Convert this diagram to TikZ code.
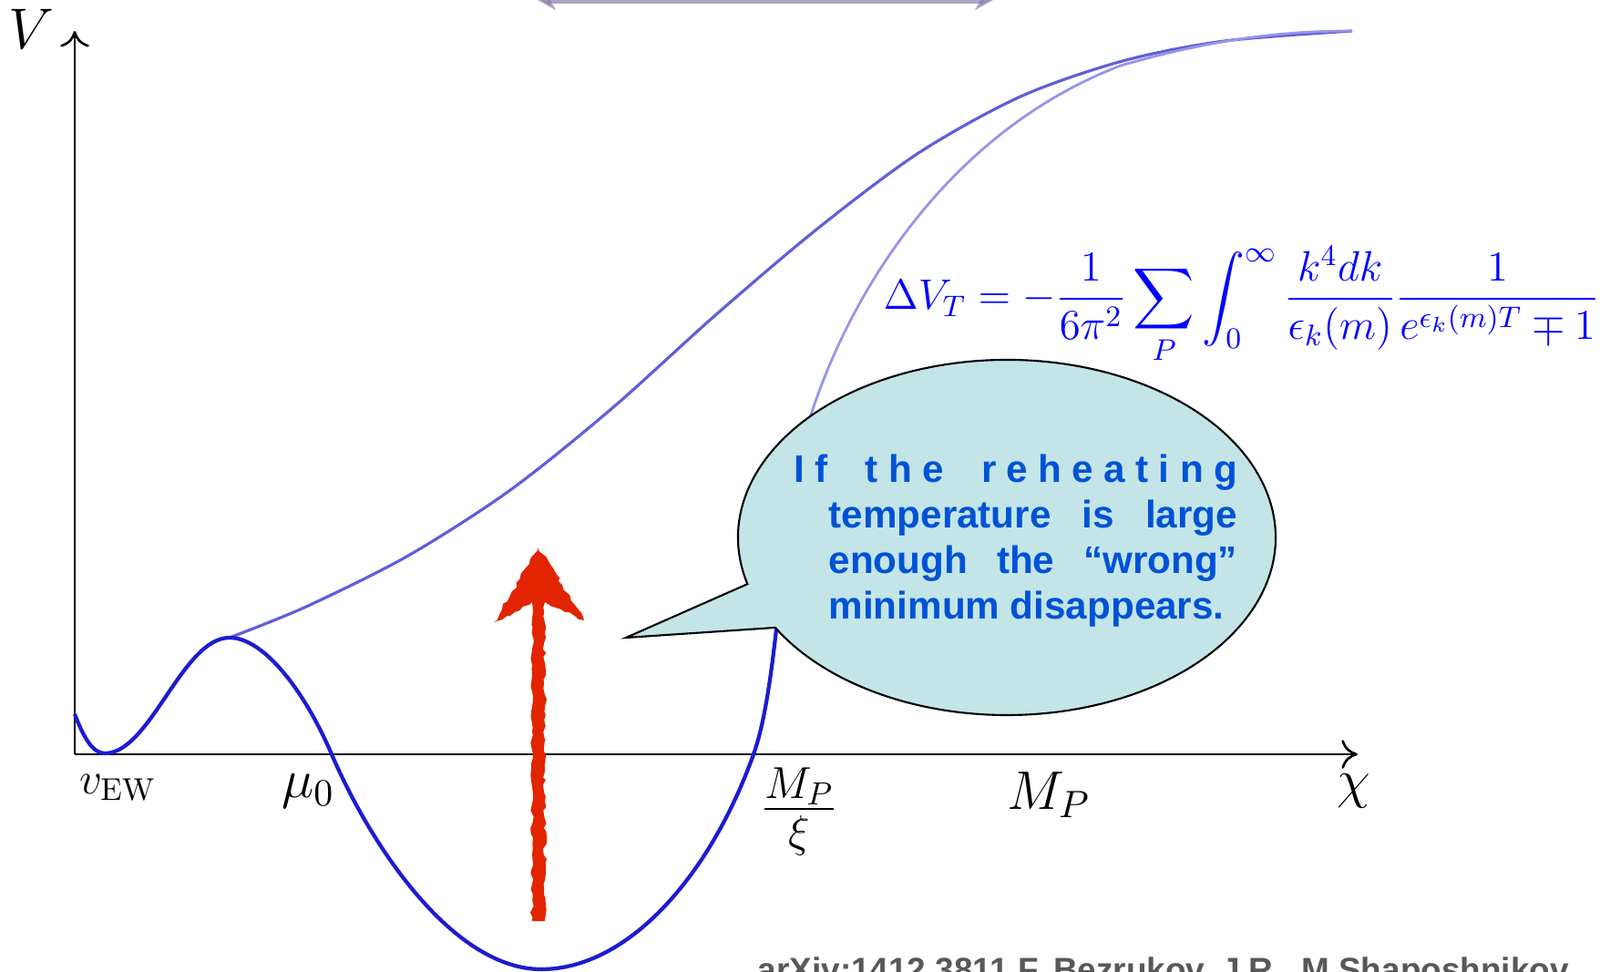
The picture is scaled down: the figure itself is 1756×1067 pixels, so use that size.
\RequirePackage{fix-cm}
\documentclass[tikz,border=0pt]{standalone}
\usepackage{amsmath,amssymb}
\usepackage{fontspec}
\newfontfamily\bubblefont{Liberation Sans Bold}
\usetikzlibrary{arrows.meta,positioning,calc,decorations.pathmorphing}

\definecolor{curvedark}{RGB}{28,28,208}
\definecolor{curvelight}{RGB}{95,95,218}
\definecolor{curvepale}{RGB}{150,150,232}
\definecolor{bubblefill}{RGB}{195,229,232}
\definecolor{bubbletext}{RGB}{0,82,214}
\definecolor{heatred}{RGB}{226,36,0}
\definecolor{eqblue}{RGB}{0,0,255}
\definecolor{refgray}{RGB}{88,88,88}
\definecolor{barcol}{RGB}{140,125,175}

\newcommand\lsp{\hskip 0pt plus 1fil}
\newcommand\wsp{\hskip 0.3em plus 2.5fil}

\begin{document}
\begin{tikzpicture}[
  x=0.01cm,y=-0.01cm,
  axis/.style={line width=0.75pt,-{To[length=5pt,width=9pt]}},
  vline/.style={line width=1.2pt,curvedark,line join=round},
  thline/.style={line width=0.9pt,curvelight},
  paleline/.style={line width=0.8pt,curvepale},
  lbl/.style={inner sep=0pt,font=\fontsize{17}{20}\selectfont},
  bubble/.style={draw=black,line width=0.6pt,fill=bubblefill},
  heat/.style={fill=heatred,decorate,decoration={random steps,segment length=1.6pt,amplitude=0.6pt}},
  topbar/.style={line width=0.08cm,barcol,opacity=0.7,{Stealth[length=0.2cm,width=0.22cm]}-{Stealth[length=0.2cm,width=0.22cm]}}
]
\clip (0,0) rectangle (1756,1067);
\fill[white] (0,0) rectangle (1756,1067);

% bar cut off at the top
\coordinate (barl) at (590,0);
\coordinate (barr) at (1090,0);
\draw[topbar] (barl) -- (barr);

% axes
\coordinate (origin) at (82,828);
\coordinate (ytop) at (82,34);
\coordinate (xend) at (1490,828);
\draw[axis] (origin) -- (ytop);
\draw[axis] (origin) -- (xend);

\node[lbl,font=\fontsize{18}{21}\selectfont] (vlab) at (34,32) {$V$};
\node[lbl] (chilab) at (1486,868) {$\chi$};
\node[lbl,font=\fontsize{14}{17}\selectfont] (vew) at (129,865) {$v_{\mathrm{EW}}$};
\node[lbl] (mulab) at (338,868) {$\mu_0$};
\node[lbl,font=\fontsize{20}{24}\selectfont] (mpxi) at (877,891) {$\frac{M_P}{\xi}$};
\node[lbl] (mplab) at (1151,873) {$M_P$};

% potentials
\coordinate (vmax) at (252,700);
\coordinate (wall) at (866,560);
\draw[thline] plot[smooth] coordinates {(vmax) (336,666) (448,610) (560,538) (672,448) (784,347) (896,252) (1008,168) (1120,106) (1232,67) (1344,45) (1484,34)};
\draw[paleline] (wall) .. controls (885,405) and (1000,160) .. (1230,72)
  .. controls (1340,40) and (1420,34) .. (1484,34);
\draw[vline] (82,784) .. controls (92,810) and (102,827) .. (115,827)
  .. controls (165,827) and (200,700) .. (vmax)
  .. controls (290,700) and (335,760) .. (364,828)
  .. controls (410,935) and (500,1064) .. (594,1064)
  .. controls (690,1064) and (780,960) .. (827,828)
  .. controls (848,770) and (855,650) .. (wall);

% formula
\node[inner sep=0pt,anchor=base west,text=eqblue,font=\fontsize{13.3}{16}\selectfont] (dvt) at (969,340)
  {$\displaystyle \Delta V_T=-\frac{1}{6\pi^2}\sum_P\int_0^\infty\frac{k^4dk}{\epsilon_k(m)}\frac{1}{e^{\epsilon_k(m)T}\mp1}$};

% speech bubble
\coordinate (bubc) at (1105,590);
\coordinate (tailtip) at (687,700);
\path (bubc) ++(164.8:295 and 195) coordinate (tailtop);
\draw[bubble] (tailtip) -- (tailtop) arc[start angle=164.8,end angle=509.5,x radius=295,y radius=195] -- cycle;

\node[anchor=north west,inner sep=0pt,align=left,text=bubbletext,font=\bubblefont\fontsize{12}{14.2}\selectfont] (msg) at (871,498) {%
\hbox to 4.86cm{I\lsp f\wsp t\lsp h\lsp e\wsp r\lsp e\lsp h\lsp e\lsp a\lsp t\lsp i\lsp n\lsp g}\\
\hbox to 4.86cm{\hskip0.38cm temperature\hfil\ is\hfil\ large}\\
\hbox to 4.86cm{\hskip0.38cm enough\hfil\ the\hfil\ “wrong”}\\
\hbox to 4.86cm{\hskip0.38cm minimum disappears.\hfil}};

% heating arrow
\coordinate (heatbase) at (591,1011);
\coordinate (heattop) at (591,601);
\fill[heat] ($(heatbase)+(-7,0)$) -- ($(heattop)+(-7,60)$) -- ($(heattop)+(-49,82)$) -- (heattop)
  -- ($(heattop)+(50,80)$) -- ($(heattop)+(7,60)$) -- ($(heatbase)+(7,0)$) -- cycle;

% reference, cut off at the bottom
\node[anchor=base west,inner sep=0pt,text=refgray,font=\bubblefont\fontsize{10.5}{12}\selectfont] (cite) at (831,1078)
  {arXiv:1412.3811 F. Bezrukov, J.R., M.Shaposhnikov};
\end{tikzpicture}
\end{document}
